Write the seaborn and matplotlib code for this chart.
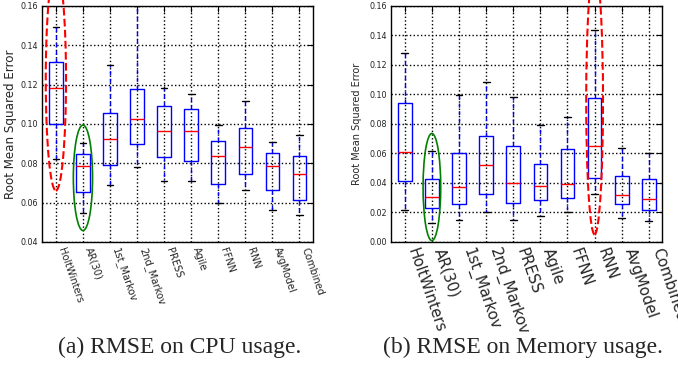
import matplotlib
matplotlib.use("Agg")
import matplotlib.pyplot as plt
from matplotlib.patches import Ellipse
import seaborn as sns
import pandas as pd
import numpy as np

models = ["HoltWinters", "AR(30)", "1st_Markov", "2nd_Markov", "PRESS",
          "Agile", "FFNN", "RNN", "AvgModel", "Combined"]

# CPU usage RMSE: whisker low, Q1, median, Q3, whisker high
cpu_low = [0.082, 0.0548, 0.0691, 0.078, 0.071, 0.0711, 0.0599, 0.0662, 0.056, 0.0539]
cpu_q1 = [0.0999, 0.0654, 0.0793, 0.0897, 0.0834, 0.081, 0.0693, 0.0744, 0.0662, 0.0614]
cpu_med = [0.118, 0.0785, 0.0924, 0.1023, 0.0963, 0.0963, 0.0839, 0.088, 0.0785, 0.0744]
cpu_q3 = [0.1317, 0.0849, 0.1055, 0.1176, 0.109, 0.1076, 0.0914, 0.0979, 0.0854, 0.0836]
cpu_high = [0.149, 0.0902, 0.130, 0.160, 0.118, 0.115, 0.0996, 0.1118, 0.0906, 0.0941]

# Memory usage RMSE
mem_low = [0.0213, 0.0129, 0.015, 0.020, 0.015, 0.0179, 0.0202, 0.0324, 0.0159, 0.0143]
mem_q1 = [0.0415, 0.0227, 0.0259, 0.0322, 0.0263, 0.0286, 0.0295, 0.0431, 0.0254, 0.0213]
mem_med = [0.061, 0.0302, 0.0372, 0.0522, 0.0402, 0.0381, 0.0395, 0.0649, 0.0315, 0.0293]
mem_q3 = [0.094, 0.0429, 0.0606, 0.0715, 0.0647, 0.0531, 0.0629, 0.0974, 0.0449, 0.0429]
mem_high = [0.128, 0.0613, 0.0999, 0.1085, 0.098, 0.0792, 0.0847, 0.1434, 0.0638, 0.060]

cpu_yticks = [0.04, 0.06, 0.08, 0.10, 0.12, 0.14, 0.16]
mem_yticks = [0.00, 0.02, 0.04, 0.06, 0.08, 0.10, 0.12, 0.14, 0.16]
ylabel = "Root Mean Squared Error"
captions = ["(a) RMSE on CPU usage.", "(b) RMSE on Memory usage."]


def long_frame(lo, q1, med, q3, hi):
    rows = []
    for i, m in enumerate(models):
        for v in (lo[i], q1[i], med[i], q3[i], hi[i]):
            rows.append({"model": m, "rmse": v})
    return pd.DataFrame(rows)


cpu_df = long_frame(cpu_low, cpu_q1, cpu_med, cpu_q3, cpu_high)
mem_df = long_frame(mem_low, mem_q1, mem_med, mem_q3, mem_high)

sns.set_style("white")
plt.rcParams["font.family"] = ["DejaVu Sans"]

fig = plt.figure(figsize=(6.78, 3.66), dpi=100)
ax1 = fig.add_axes([0.0625, 0.339, 0.399, 0.645])
ax2 = fig.add_axes([0.577, 0.339, 0.400, 0.645])


def draw(ax, df, yticks, xfs, yfs, ylfs, labelpad):
    sns.boxplot(data=df, x="model", y="rmse", order=models, ax=ax,
                width=0.5, whis=(0, 100), fill=False, showfliers=False,
                color="blue", linewidth=1.0,
                boxprops=dict(color="blue", linewidth=1.0),
                whiskerprops=dict(color="blue", linewidth=1.0, linestyle=(0, (3, 2.5))),
                capprops=dict(color="black", linewidth=1.0),
                medianprops=dict(color="red", linewidth=1.0))
    ax.set_ylim(yticks[0], yticks[-1])
    ax.set_xlim(-0.5, len(models) - 0.5)
    ax.set_yticks(yticks)
    ax.set_yticklabels([f"{t:.2f}" for t in yticks], fontsize=yfs, color="#222222")
    ax.set_xticks(range(len(models)))
    ax.set_xticklabels(models, rotation=-71, ha="left", fontsize=xfs)
    ax.set_xlabel("")
    ax.set_ylabel(ylabel, fontsize=ylfs, labelpad=labelpad)
    ax.grid(True, linestyle=":", color="black", linewidth=1.0)
    ax.tick_params(direction="in", top=True, right=True, length=4, width=0.8,
                   pad=3, color="black")
    for s in ax.spines.values():
        s.set_visible(True)
        s.set_color("black")
        s.set_linewidth(1.0)


draw(ax1, cpu_df, cpu_yticks, 7.1, 5.8, 8.6, 2.5)
draw(ax2, mem_df, mem_yticks, 10.8, 5.8, 7, 5)

# Highlight ellipses
ax1.add_patch(Ellipse((0, 0.1226), 0.75, 0.113, fill=False, edgecolor="red",
                      linestyle="--", linewidth=1.5, clip_on=False, zorder=5))
ax1.add_patch(Ellipse((1, 0.0726), 0.71, 0.0536, fill=False, edgecolor="green",
                      linewidth=1.2, clip_on=False, zorder=5))
ax2.add_patch(Ellipse((1, 0.0372), 0.65, 0.0726, fill=False, edgecolor="green",
                      linewidth=1.2, clip_on=False, zorder=5))
ax2.add_patch(Ellipse((7, 0.0956), 0.62, 0.181, fill=False, edgecolor="red",
                      linestyle="--", linewidth=1.5, clip_on=False, zorder=5))

fig.text(0.2655, 0.052, captions[0], ha="center", va="center",
         fontsize=17, family="Liberation Serif")
fig.text(0.772, 0.052, captions[1], ha="center", va="center",
         fontsize=17, family="Liberation Serif")

fig.savefig("out.png", dpi=100)
